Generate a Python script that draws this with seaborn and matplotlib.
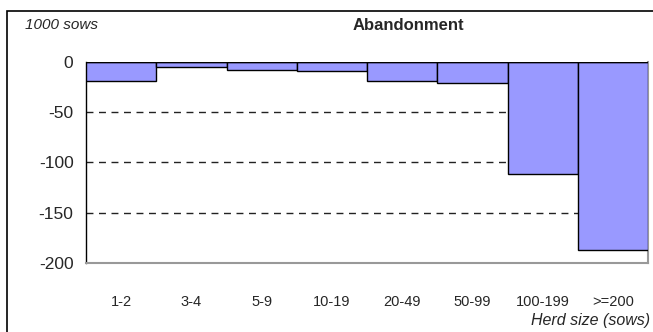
import matplotlib
matplotlib.use("Agg")
import matplotlib.pyplot as plt
import seaborn as sns
import pandas as pd
from matplotlib.patches import Rectangle

categories = ["1-2", "3-4", "5-9", "10-19", "20-49", "50-99", "100-199", ">=200"]
values = [-18.7, -5, -7.7, -8.5, -18.7, -21, -111.7, -187.5]
yticks = [0, -50, -100, -150, -200]

sns.set_theme(style="white")
plt.rcParams['font.family'] = ['Liberation Sans', 'DejaVu Sans']

W, H = 653, 332
fig = plt.figure(figsize=(W / 100, H / 100), dpi=100)
ax = fig.add_axes([86 / W, 1 - 262.7 / H, (648 - 86) / W, (262.7 - 62.3) / H])

df = pd.DataFrame({"size": categories, "val": values})
sns.barplot(data=df, x="size", y="val", order=categories, color="#9999FF",
            saturation=1, width=1.0, edgecolor="black", linewidth=1.0, ax=ax, zorder=3)

ax.set_ylim(-200, 0)
ax.set_xlim(-0.5, len(categories) - 0.5)
ax.set_yticks(yticks)
ax.set_yticklabels([str(t) for t in yticks], fontsize=12.5)
ax.tick_params(axis="y", direction="out", length=5, width=1, color="black", pad=4)
ax.tick_params(axis="x", length=0, pad=23, labelsize=10.5)
ax.set_xlabel("")
ax.set_ylabel("")

for t in [-50, -100, -150]:
    ax.axhline(t, color="#222222", linestyle=(0, (5, 4)), linewidth=1.0, zorder=1)
ax.axhline(0, color="black", linewidth=1.0, zorder=4)

ax.spines["top"].set_visible(False)
ax.spines["left"].set_color("black")
ax.spines["left"].set_linewidth(1.0)
ax.spines["right"].set_color("#999999")
ax.spines["right"].set_linewidth(1.5)
ax.spines["bottom"].set_color("#999999")
ax.spines["bottom"].set_linewidth(1.5)

fig.patches.append(Rectangle((7 / W, -0.1), 1.2, 1 - 11 / H + 0.1, transform=fig.transFigure,
                             fill=False, edgecolor="black", linewidth=1.2))

fig.text(25 / W, 1 - 25 / H, "1000 sows", fontsize=11, style="italic", ha="left", va="center")
fig.text(408 / W, 1 - 25 / H, "Abandonment", fontsize=12, fontweight="bold", ha="center", va="center")
fig.text(650 / W, 1 - 321 / H, "Herd size (sows)", fontsize=11.5, style="italic", ha="right", va="center")

fig.savefig("out.png", dpi=100)
